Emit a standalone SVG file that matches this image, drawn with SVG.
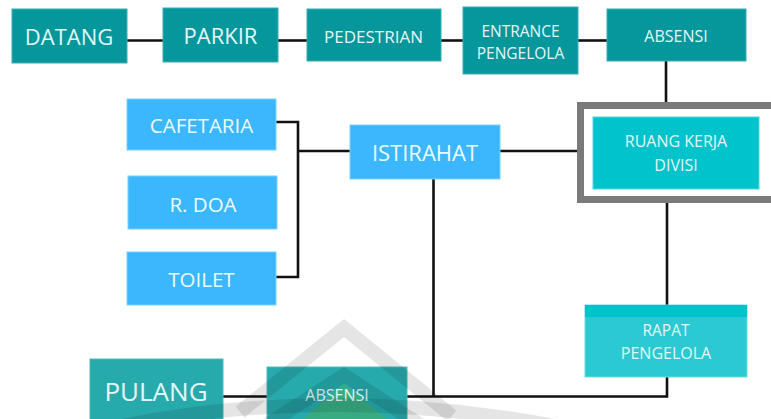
<svg xmlns="http://www.w3.org/2000/svg" width="771" height="419" viewBox="0 0 771 419">
  <defs>
    <style>
      .teal { fill: #05979b; stroke: #3aaeb1; stroke-width: 1; }
      .teal2 { fill: #27aaac; stroke: #4dbabc; stroke-width: 1; }
      .blue { fill: #3bb8fd; stroke: #7ccffd; stroke-width: 1; }
      .cyan { fill: #00c3cc; stroke: #4fd6dc; stroke-width: 1; }
      .lbl { font-family: "Open Sans", "Liberation Sans", sans-serif; text-anchor: middle; fill: #e4f6f6; }
      .lblb { font-family: "Open Sans", "Liberation Sans", sans-serif; text-anchor: middle; fill: #eef9ff; }
      .wire { fill: none; stroke: #111; stroke-width: 2.6; }
      .wm { fill: none; stroke: #000; stroke-opacity: 0.1; stroke-width: 14; }
    </style>
  </defs>
  <rect width="771" height="419" fill="#ffffff"/>

  <!-- connectors -->
  <g id="connectors" class="wire">
    <path d="M127 40.5 H163"/>
    <path d="M278 40.5 H307"/>
    <path d="M441 40.5 H463"/>
    <path d="M578 40.5 H607"/>
    <path d="M666 61 V103"/>
    <path d="M500 151 H578"/>
    <path d="M667 203 V305"/>
    <path d="M276 122 H298 V277 H276"/>
    <path d="M298 151 H350"/>
    <path d="M433.5 179 V396"/>
    <path d="M223 396.5 H267"/>
    <path d="M407 396.5 H667 V377"/>
  </g>

  <!-- top row -->
  <g id="datang">
    <rect class="teal" x="12" y="9" width="115" height="54"/>
    <text class="lbl" x="69" y="45" font-size="22">DATANG</text>
  </g>
  <g id="parkir">
    <rect class="teal" x="163" y="8" width="115" height="54"/>
    <text class="lbl" x="220.5" y="44" font-size="22">PARKIR</text>
  </g>
  <g id="pedestrian">
    <rect class="teal" x="307" y="9" width="134" height="52"/>
    <text class="lbl" x="373.5" y="42.5" font-size="17">PEDESTRIAN</text>
  </g>
  <g id="entrance-pengelola">
    <rect class="teal" x="463" y="7" width="115" height="67"/>
    <text class="lbl" x="520.5" y="37" font-size="15.5">ENTRANCE</text>
    <text class="lbl" x="520.5" y="58.5" font-size="15.5">PENGELOLA</text>
  </g>
  <g id="absensi-masuk">
    <rect class="teal" x="607" y="9" width="139" height="52"/>
    <text class="lbl" x="676" y="42" font-size="16">ABSENSI</text>
  </g>

  <!-- work area -->
  <g id="ruang-kerja-divisi">
    <rect x="580.5" y="105.5" width="210" height="94" fill="#ffffff" stroke="#7a7a7a" stroke-width="7"/>
    <rect class="cyan" x="593" y="117" width="166" height="72"/>
    <text class="lbl" x="676" y="146.5" font-size="16">RUANG KERJA</text>
    <text class="lbl" x="676" y="171" font-size="16">DIVISI</text>
  </g>
  <g id="rapat-pengelola">
    <rect x="585" y="305" width="162" height="72" fill="#2bcad2" stroke="#6adbe0" stroke-width="1"/>
    <rect x="585" y="305" width="162" height="12" fill="#00c3cb"/>
    <text class="lbl" x="666" y="336" font-size="15.5">RAPAT</text>
    <text class="lbl" x="666" y="359" font-size="16">PENGELOLA</text>
  </g>

  <!-- break area -->
  <g id="cafetaria">
    <rect class="blue" x="127" y="99" width="149" height="51"/>
    <text class="lblb" x="201.5" y="132.5" font-size="20.5">CAFETARIA</text>
  </g>
  <g id="r-doa">
    <rect class="blue" x="128" y="176" width="149" height="53"/>
    <text class="lblb" x="203" y="211.5" font-size="20.5">R. DOA</text>
  </g>
  <g id="toilet">
    <rect class="blue" x="127" y="252" width="149" height="53"/>
    <text class="lblb" x="201.5" y="287" font-size="20.5">TOILET</text>
  </g>
  <g id="istirahat">
    <rect class="blue" x="350" y="125" width="150" height="54"/>
    <text class="lblb" x="425" y="161" font-size="22">ISTIRAHAT</text>
  </g>

  <!-- bottom row -->
  <g id="pulang">
    <rect class="teal2" x="90" y="359" width="133" height="70"/>
    <text class="lbl" x="156" y="401" font-size="26">PULANG</text>
  </g>
  <g id="absensi-keluar">
    <rect class="teal2" x="267" y="367" width="140" height="60"/>
    <path d="M344 384 L300 422 H390 Z" fill="#4caf50" fill-opacity="0.45"/>
    <text class="lbl" x="337" y="401" font-size="16">ABSENSI</text>
  </g>

  <!-- faint background emblem -->
  <g id="emblem">
    <path class="wm" d="M240 412 L344 328 L452 416"/>
    <path class="wm" d="M262 428 L344 375 L428 430"/>
    <path class="wm" stroke-width="16" d="M60 440 Q330 370 620 440"/>
  </g>
</svg>
